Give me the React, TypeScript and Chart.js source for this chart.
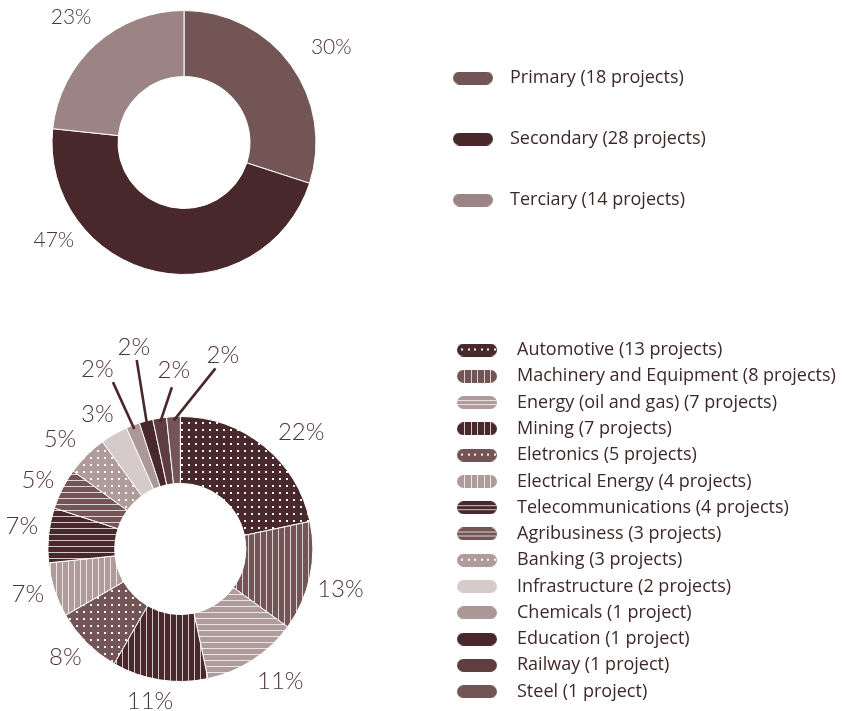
import React, { useEffect, useRef } from "react";
import { Chart, registerables } from "chart.js";

Chart.register(...registerables);

// ---------- data ----------
const SECTOR_LABELS = ["Primary (18 projects)", "Secondary (28 projects)", "Terciary (14 projects)"];
const SECTOR_VALUES = [18, 28, 14];
const SECTOR_PCT = [30, 47, 23];
const SECTOR_COLORS = ["#735556", "#48282a", "#9c8485"];

const INDUSTRY_LABELS = [
  "Automotive (13 projects)",
  "Machinery and Equipment (8 projects)",
  "Energy (oil and gas) (7 projects)",
  "Mining (7 projects)",
  "Eletronics (5 projects)",
  "Electrical Energy (4 projects)",
  "Telecommunications (4 projects)",
  "Agribusiness (3 projects)",
  "Banking (3 projects)",
  "Infrastructure (2 projects)",
  "Chemicals (1 project)",
  "Education (1 project)",
  "Railway (1 project)",
  "Steel (1 project)",
];
const INDUSTRY_VALUES = [13, 8, 7, 7, 5, 4, 4, 3, 3, 2, 1, 1, 1, 1];
const INDUSTRY_PCT = [22, 13, 11, 11, 8, 7, 7, 5, 5, 3, 2, 2, 2, 2];
const INDUSTRY_COLORS = [
  "#48282a", "#735556", "#b09b9b", "#48282a", "#735556", "#b09b9b", "#48282a",
  "#735556", "#b09b9b", "#d7caca", "#ad9898", "#48282a", "#5e3e40", "#735556",
];
const INDUSTRY_PATTERNS = [
  "dots", "vlines", "hlines", "vlines", "dots", "vlines", "hlines",
  "hlines", "dots", "solid", "solid", "solid", "solid", "solid",
];

// ---------- styles ----------
const LEGEND_FAMILY = "'Open Sans', 'Noto Sans', sans-serif";
const LEGEND_SIZE = 18;
const LEGEND_COLOR = "#3d2829";
const PCT_FONT = "Lato, 'Open Sans', sans-serif";
const PCT_COLOR = "#4d3536";
const STRIPE = "rgba(255,255,255,0.75)";
const DEG = Math.PI / 180;

// page layout targets (px)
const TOP = { canvasTop: 0, canvasH: 300, cx: 184, cy: 142.5, boxX: 453, textX: 510, row0: 78, rowGap: 61 };
const BOT = { canvasTop: 300, canvasH: 480, cx: 180.5, cy: 549, boxX: 457, textX: 517, row0: 350, rowGap: 26.28 };
const CANVAS_W = 1150;

function layoutFor(t: typeof TOP) {
  const pad = t.rowGap - LEGEND_SIZE;
  const swatchW = Math.round(t.textX - t.boxX - LEGEND_SIZE / 2);
  const canvasLeft = Math.round(2 * t.cx - (t.boxX - pad));
  const legendLeft = t.boxX - pad - canvasLeft;
  const padTop = t.row0 - t.canvasTop - pad - LEGEND_SIZE / 2;
  const areaBottom = 2 * (t.cy - t.canvasTop) - padTop;
  const padBottom = t.canvasH - areaBottom;
  return { pad, swatchW, canvasLeft, legendLeft, padTop, padBottom };
}

function makeFill(ctx: CanvasRenderingContext2D, base: string, kind: string): any {
  if (kind === "solid") return base;
  const t = document.createElement("canvas");
  const g = t.getContext("2d")!;
  if (kind === "dots") {
    t.width = 7; t.height = 7;
    g.fillStyle = base; g.fillRect(0, 0, 7, 7);
    g.fillStyle = "rgba(255,255,255,0.95)"; g.fillRect(3, 3, 2, 2);
  } else if (kind === "vlines") {
    t.width = 6; t.height = 6;
    g.fillStyle = base; g.fillRect(0, 0, 6, 6);
    g.fillStyle = STRIPE; g.fillRect(0, 0, 1, 6);
  } else {
    t.width = 6; t.height = 6;
    g.fillStyle = base; g.fillRect(0, 0, 6, 6);
    g.fillStyle = STRIPE; g.fillRect(0, 0, 6, 1);
  }
  return ctx.createPattern(t, "repeat");
}

function makeSwatch(base: string, kind: string, w: number): HTMLCanvasElement {
  const c = document.createElement("canvas");
  c.width = w; c.height = 13;
  const g = c.getContext("2d")!;
  g.beginPath();
  (g as any).roundRect(0, 0, 40, 13, 6.5);
  g.save();
  g.clip();
  g.fillStyle = base;
  g.fillRect(0, 0, 40, 13);
  if (kind === "dots") {
    g.fillStyle = "rgba(255,255,255,0.95)";
    for (let x = 4; x < 38; x += 6.5) g.fillRect(Math.round(x), 5, 2, 2);
  } else if (kind === "vlines") {
    g.fillStyle = STRIPE;
    for (let x = 7; x < 36; x += 6.5) g.fillRect(Math.round(x), 0, 1, 13);
  } else if (kind === "hlines") {
    g.fillStyle = STRIPE;
    g.fillRect(0, 4, 40, 1);
    g.fillRect(0, 8, 40, 1);
  }
  g.restore();
  return c;
}

type Callout = { endGap: number; endShift: number; labelGap: number; labelShift: number };
type LabelCfg = {
  texts: number[];
  size: number;
  gaps: number[];
  shifts: number[];
  callouts?: Record<number, Callout>;
};

function makeLabelPlugin(cfg: LabelCfg) {
  return {
    id: "pctLabels",
    afterDatasetsDraw(chart: any) {
      const meta = chart.getDatasetMeta(0);
      const ctx: CanvasRenderingContext2D = chart.ctx;
      ctx.save();
      ctx.font = `300 ${cfg.size}px ${PCT_FONT}`;
      ctx.fillStyle = PCT_COLOR;
      ctx.textAlign = "center";
      ctx.textBaseline = "middle";
      meta.data.forEach((arc: any, i: number) => {
        const { x, y, startAngle, endAngle, outerRadius } = arc.getProps(
          ["x", "y", "startAngle", "endAngle", "outerRadius"], true);
        const mid = (startAngle + endAngle) / 2;
        const text = cfg.texts[i] + "%";
        const co = cfg.callouts && cfg.callouts[i];
        if (co) {
          const r1 = outerRadius - 4;
          const a2 = mid + co.endShift * DEG;
          const r2 = outerRadius + co.endGap;
          ctx.beginPath();
          ctx.moveTo(x + r1 * Math.cos(mid), y + r1 * Math.sin(mid));
          ctx.lineTo(x + r2 * Math.cos(a2), y + r2 * Math.sin(a2));
          ctx.strokeStyle = "#48282a";
          ctx.lineWidth = 2.6;
          ctx.stroke();
          const a3 = mid + co.labelShift * DEG;
          const r3 = outerRadius + co.labelGap;
          ctx.fillText(text, x + r3 * Math.cos(a3), y + r3 * Math.sin(a3));
        } else {
          const a = mid + (cfg.shifts[i] || 0) * DEG;
          const r = outerRadius + (cfg.gaps[i] || 28);
          ctx.fillText(text, x + r * Math.cos(a), y + r * Math.sin(a));
        }
      });
      ctx.restore();
    },
  };
}

function buildConfig(opts: {
  labels: string[]; values: number[]; colors: string[]; patterns: string[];
  ctx: CanvasRenderingContext2D; radius: number; cutout: string;
  lay: ReturnType<typeof layoutFor>; label: LabelCfg;
}) {
  const { lay } = opts;
  const fills = opts.colors.map((c, i) => makeFill(opts.ctx, c, opts.patterns[i]));
  const swatches = opts.colors.map((c, i) => makeSwatch(c, opts.patterns[i], lay.swatchW));
  // legend width as Chart.js computes it: padding + box + half font + text + 10
  const m = opts.ctx;
  m.save();
  m.font = `${LEGEND_SIZE}px ${LEGEND_FAMILY}`;
  const maxText = Math.max(...opts.labels.map((t) => m.measureText(t).width));
  m.restore();
  const legendW = lay.pad + lay.swatchW + LEGEND_SIZE / 2 + maxText + 10;
  const padRight = CANVAS_W - lay.legendLeft - legendW;
  return {
    type: "doughnut",
    data: {
      labels: opts.labels,
      datasets: [{
        data: opts.values,
        backgroundColor: fills,
        borderColor: "#ffffff",
        borderWidth: 1,
        radius: opts.radius,
        cutout: opts.cutout,
        clip: false,
      }],
    },
    options: {
      responsive: false,
      animation: false,
      events: [],
      layout: { padding: { left: 0, top: lay.padTop, right: padRight, bottom: lay.padBottom } },
      plugins: {
        tooltip: { enabled: false },
        legend: {
          position: "right",
          align: "start",
          labels: {
            usePointStyle: true,
            pointStyleWidth: lay.swatchW,
            padding: lay.pad,
            color: LEGEND_COLOR,
            font: { family: LEGEND_FAMILY, size: LEGEND_SIZE },
            generateLabels: () =>
              opts.labels.map((text, i) => ({
                text,
                fillStyle: opts.colors[i],
                strokeStyle: opts.colors[i],
                fontColor: LEGEND_COLOR,
                lineWidth: 0,
                pointStyle: swatches[i],
                hidden: false,
                index: i,
              })),
          },
        },
      },
    },
    plugins: [makeLabelPlugin(opts.label)],
  } as any;
}

const TOP_LAY = layoutFor(TOP);
const BOT_LAY = layoutFor(BOT);

export default function App() {
  const topRef = useRef<HTMLCanvasElement>(null);
  const botRef = useRef<HTMLCanvasElement>(null);

  useEffect(() => {
    const tctx = topRef.current!.getContext("2d")!;
    const bctx = botRef.current!.getContext("2d")!;
    const top = new Chart(topRef.current!, buildConfig({
      labels: SECTOR_LABELS, values: SECTOR_VALUES, colors: SECTOR_COLORS,
      patterns: ["solid", "solid", "solid"], ctx: tctx,
      radius: 132, cutout: "50%", lay: TOP_LAY,
      label: { texts: SECTOR_PCT, size: 21, gaps: [43.6, 31, 36.7], shifts: [3, 41, 0] },
    }));
    const bot = new Chart(botRef.current!, buildConfig({
      labels: INDUSTRY_LABELS, values: INDUSTRY_VALUES, colors: INDUSTRY_COLORS,
      patterns: INDUSTRY_PATTERNS, ctx: bctx,
      radius: 132.5, cutout: "49.5%", lay: BOT_LAY,
      label: {
        texts: INDUSTRY_PCT, size: 24,
        gaps: [35.5, 32.5, 33.5, 22.5, 25.5, 26.5, 27.7, 25.8, 30.5, 26],
        shifts: [7, 2, -4, 2.3, 1.7, 1.6, 2.3, -1.2, -2.6, -1.6],
        callouts: {
          10: { endGap: 47.5, endShift: -1, labelGap: 65.5, labelShift: -3.8 },
          11: { endGap: 61.5, endShift: 2, labelGap: 74.5, labelShift: 2 },
          12: { endGap: 29.5, endShift: 6, labelGap: 46, labelShift: 6.9 },
          13: { endGap: 51.5, endShift: 14, labelGap: 65.5, labelShift: 15.4 },
        },
      },
    }));
    return () => { top.destroy(); bot.destroy(); };
  }, []);

  return (
    <div style={{ position: "absolute", left: 0, top: 0, width: 846, height: 711, overflow: "hidden", background: "#ffffff" }}>
      <canvas ref={topRef} width={CANVAS_W} height={TOP.canvasH}
        style={{ position: "absolute", left: TOP_LAY.canvasLeft, top: TOP.canvasTop, width: CANVAS_W, height: TOP.canvasH }} />
      <canvas ref={botRef} width={CANVAS_W} height={BOT.canvasH}
        style={{ position: "absolute", left: BOT_LAY.canvasLeft, top: BOT.canvasTop, width: CANVAS_W, height: BOT.canvasH }} />
    </div>
  );
}
